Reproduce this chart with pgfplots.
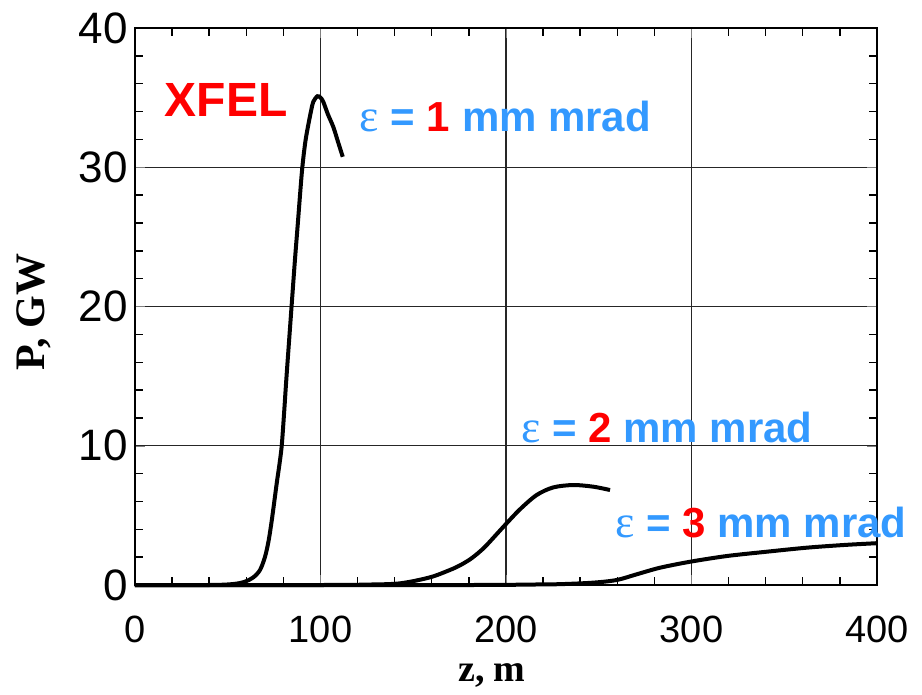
\documentclass[border=0pt]{standalone}
\usepackage{fontspec}
\setmainfont{Liberation Sans}
\newfontfamily\serifbold[BoldFont={* Bold}]{Liberation Serif}
\usepackage{pgfplots}
\pgfplotsset{compat=1.18}

\definecolor{labelblue}{RGB}{51,153,255}
\definecolor{labelred}{RGB}{255,0,0}

\newcommand{\emitt}[1]{{\fontsize{21}{25}\selectfont\color{labelblue}%
  {\serifbold\fontsize{23}{25}\selectfont ε}\bfseries{} = {\color{labelred}#1} mm mrad}}

\begin{document}
\begin{tikzpicture}
\begin{axis}[
  at={(0,0)}, anchor=south west,
  scale only axis,
  width=371pt, height=278.5pt,
  xmin=0, xmax=400, ymin=0, ymax=40,
  xtick={0,100,...,400}, ytick={0,10,...,40},
  xmajorgrids, ymajorgrids,
  major grid style={line width=0.6pt, black!85},
  tick align=inside,
  major tick length=5pt,
  axis line style={line width=1.3pt},
  xticklabel style={font=\fontsize{19}{22}\selectfont, yshift=-12pt},
  yticklabel style={font=\fontsize{22}{26}\selectfont},
  xticklabel={\pgfmathprintnumber[assume math mode=true]{\tick}},
  yticklabel={\pgfmathprintnumber[assume math mode=true]{\tick}},
  xlabel={z, m}, ylabel={P, GW},
  xlabel style={font=\serifbold\bfseries\fontsize{19}{22}\selectfont,
    at={(axis description cs:0.481,-0.163)}, anchor=center},
  ylabel style={font=\serifbold\bfseries\fontsize{21}{24}\selectfont,
    at={(axis description cs:-0.137,0.49)}, anchor=center},
  unbounded coords=jump,
  clip=false,
]
% minor tick marks on the four sides of the frame
\addplot[black, line width=0.7pt] coordinates {
  (20,0) (20,0.58) (nan,nan) (40,0) (40,0.58) (nan,nan) (60,0) (60,0.58) (nan,nan)
  (80,0) (80,0.58) (nan,nan) (120,0) (120,0.58) (nan,nan) (140,0) (140,0.58) (nan,nan)
  (160,0) (160,0.58) (nan,nan) (180,0) (180,0.58) (nan,nan) (220,0) (220,0.58) (nan,nan)
  (240,0) (240,0.58) (nan,nan) (260,0) (260,0.58) (nan,nan) (280,0) (280,0.58) (nan,nan)
  (320,0) (320,0.58) (nan,nan) (340,0) (340,0.58) (nan,nan) (360,0) (360,0.58) (nan,nan)
  (380,0) (380,0.58) (nan,nan)
  (20,40) (20,39.42) (nan,nan) (40,40) (40,39.42) (nan,nan) (60,40) (60,39.42) (nan,nan)
  (80,40) (80,39.42) (nan,nan) (120,40) (120,39.42) (nan,nan) (140,40) (140,39.42) (nan,nan)
  (160,40) (160,39.42) (nan,nan) (180,40) (180,39.42) (nan,nan) (220,40) (220,39.42) (nan,nan)
  (240,40) (240,39.42) (nan,nan) (260,40) (260,39.42) (nan,nan) (280,40) (280,39.42) (nan,nan)
  (320,40) (320,39.42) (nan,nan) (340,40) (340,39.42) (nan,nan) (360,40) (360,39.42) (nan,nan)
  (380,40) (380,39.42) (nan,nan)
  (0,2) (4.3,2) (nan,nan) (0,4) (4.3,4) (nan,nan) (0,6) (4.3,6) (nan,nan) (0,8) (4.3,8) (nan,nan)
  (0,12) (4.3,12) (nan,nan) (0,14) (4.3,14) (nan,nan) (0,16) (4.3,16) (nan,nan) (0,18) (4.3,18) (nan,nan)
  (0,22) (4.3,22) (nan,nan) (0,24) (4.3,24) (nan,nan) (0,26) (4.3,26) (nan,nan) (0,28) (4.3,28) (nan,nan)
  (0,32) (4.3,32) (nan,nan) (0,34) (4.3,34) (nan,nan) (0,36) (4.3,36) (nan,nan) (0,38) (4.3,38) (nan,nan)
  (400,2) (395.7,2) (nan,nan) (400,4) (395.7,4) (nan,nan) (400,6) (395.7,6) (nan,nan) (400,8) (395.7,8) (nan,nan)
  (400,12) (395.7,12) (nan,nan) (400,14) (395.7,14) (nan,nan) (400,16) (395.7,16) (nan,nan) (400,18) (395.7,18) (nan,nan)
  (400,22) (395.7,22) (nan,nan) (400,24) (395.7,24) (nan,nan) (400,26) (395.7,26) (nan,nan) (400,28) (395.7,28) (nan,nan)
  (400,32) (395.7,32) (nan,nan) (400,34) (395.7,34) (nan,nan) (400,36) (395.7,36) (nan,nan) (400,38) (395.7,38)
};
% emittance 1 mm mrad
\addplot[black, line width=2pt, smooth] coordinates {
  (0,0) (40,0) (53,0.07) (59.3,0.24) (63.8,0.55) (67.4,1.08) (70.1,2.03)
  (72.1,3.23) (74,4.9) (76.4,7.3) (77.8,8.6) (79.1,10) (80.4,12.4)
  (81.7,15) (84.4,20) (86.2,23.3) (87.8,26) (90,29.7) (91.8,31.8)
  (93.5,33.1) (95,34.1) (96.1,34.7) (98.3,35.1) (100,35) (101.5,34.7)
  (104,33.8) (106.9,32.9) (109.5,31.8) (112,30.75)
};
% emittance 2 mm mrad
\addplot[black, line width=2pt, smooth] coordinates {
  (0,0) (100,0) (125,0.03) (142.9,0.12) (159,0.55) (169.8,1.08)
  (175.3,1.42) (180.6,1.84) (185.2,2.32) (189.6,2.87) (199.5,4.31)
  (207.5,5.43) (216.5,6.46) (225.5,7.01) (236.3,7.18) (247.1,7.06)
  (256.1,6.82)
};
% emittance 3 mm mrad
\addplot[black, line width=2pt, smooth] coordinates {
  (0,0) (180,0) (210,0.03) (229,0.06) (247.1,0.17) (259.7,0.36)
  (270.5,0.77) (283,1.24) (299.2,1.67) (319,2.08) (340.5,2.39)
  (362.1,2.68) (381.8,2.87) (398,2.99) (400,3)
};

\node[anchor=base, text=labelred, font=\bfseries\fontsize{24}{28}\selectfont]
  at (axis cs:49.1,33.68) {XFEL};
\node[anchor=base] at (axis cs:199.7,32.55) {\emitt{1}};
\node[anchor=base] at (axis cs:286.8,10.2) {\emitt{2}};
\node[anchor=base] at (axis cs:337.5,3.38) {\emitt{3}};
\end{axis}
\path[use as bounding box] (-67.5pt,-53pt) rectangle (393.5pt,292.5pt);
\end{tikzpicture}
\end{document}
